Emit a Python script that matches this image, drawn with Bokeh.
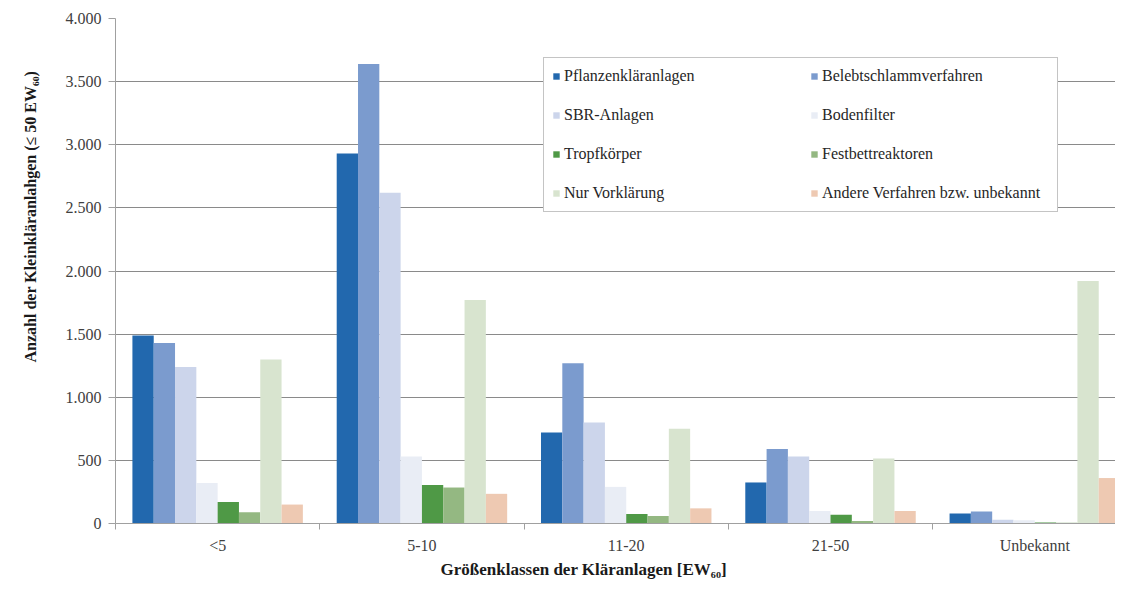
from bokeh.plotting import figure
from bokeh.models import Range1d, FixedTicker, Legend, LegendItem, Title
from bokeh.embed import file_html
from bokeh.resources import INLINE

categories = ["<5", "5-10", "11-20", "21-50", "Unbekannt"]
series_names = ["Pflanzenkläranlagen", "Belebtschlammverfahren", "SBR-Anlagen", "Bodenfilter",
                "Tropfkörper", "Festbettreaktoren", "Nur Vorklärung", "Andere Verfahren bzw. unbekannt"]
pflanzen = [1490, 2930, 720, 325, 80]
belebt = [1430, 3640, 1270, 590, 95]
sbr = [1240, 2620, 800, 530, 30]
boden = [320, 530, 290, 100, 25]
tropf = [170, 305, 75, 70, 8]
festbett = [90, 285, 60, 20, 5]
vorklaerung = [1300, 1770, 750, 515, 1920]
andere = [150, 235, 120, 100, 360]
colors = ["#2268AE", "#7B9BCE", "#CCD5EB", "#E9EDF5", "#4F9946", "#94B882", "#D8E4CF", "#EEC9B2"]
y_ticks = [0, 500, 1000, 1500, 2000, 2500, 3000, 3500, 4000]
y_tick_labels = ["0", "500", "1.000", "1.500", "2.000", "2.500", "3.000", "3.500", "4.000"]
x_title = "Größenklassen der Kläranlagen [EW₆₀]"
y_title = "Anzahl der Kleinkläranlahgen (≤ 50 EW₆₀)"

series = [pflanzen, belebt, sbr, boden, tropf, festbett, vorklaerung, andere]

SERIF = "Liberation Serif"

p = figure(width=1115, height=579, x_range=Range1d(0, 4.895), y_range=Range1d(0, 4000),
           output_backend="svg", toolbar_location=None,
           min_border_left=115, min_border_right=0, min_border_top=18, min_border_bottom=56)
p.outline_line_color = None
p.background_fill_color = "white"

# grid
p.xgrid.visible = False
p.ygrid.ticker = FixedTicker(ticks=y_ticks)
p.ygrid.grid_line_color = "#8a8a8a"
p.ygrid.grid_line_width = 1

# y axis
p.yaxis.ticker = FixedTicker(ticks=y_ticks)
p.yaxis.major_label_overrides = {t: l for t, l in zip(y_ticks, y_tick_labels)}
p.yaxis.axis_line_color = "#a0a0a0"
p.yaxis.major_tick_line_color = "#a0a0a0"
p.yaxis.major_tick_out = 7
p.yaxis.major_tick_in = 0
p.yaxis.minor_tick_line_color = None
p.yaxis.major_label_standoff = 7
p.yaxis.major_label_text_font = SERIF
p.yaxis.major_label_text_font_size = "16px"
p.yaxis.major_label_text_color = "#404040"

# x axis
centers = [i + 0.5 for i in range(len(categories))]
p.xaxis.ticker = FixedTicker(ticks=centers, minor_ticks=[float(i) for i in range(len(categories) + 1)])
p.xaxis.major_label_overrides = {c: l for c, l in zip(centers, categories)}
p.xaxis.axis_line_color = "#a0a0a0"
p.xaxis.major_tick_line_color = None
p.xaxis.major_tick_out = 0
p.xaxis.major_tick_in = 0
p.xaxis.minor_tick_line_color = "#a0a0a0"
p.xaxis.minor_tick_out = 6
p.xaxis.minor_tick_in = 0
p.xaxis.major_label_standoff = 7
p.xaxis.major_label_text_font = SERIF
p.xaxis.major_label_text_font_size = "16px"
p.xaxis.major_label_text_color = "#404040"

# bars
n = len(series)
bw = 0.1043
start = (1 - n * bw) / 2
renderers = []
for j, vals in enumerate(series):
    xs = [i + start + (j + 0.5) * bw for i in range(len(categories))]
    r = p.vbar(x=xs, top=vals, width=bw, fill_color=colors[j], line_color=None)
    renderers.append(r)

# legend fills column-major: order items so rows read (0,1), (2,3), (4,5), (6,7)
order = [0, 2, 4, 6, 1, 3, 5, 7]
legend = Legend(items=[LegendItem(label=series_names[j], renderers=[renderers[j]]) for j in order],
                ncols=2, location=(428, 311))
legend.label_text_font = SERIF
legend.label_text_font_size = "16px"
legend.label_text_color = "#262626"
legend.glyph_width = 8
legend.glyph_height = 8
legend.label_height = 20
legend.label_width = 227
legend.label_standoff = 4
legend.spacing = 19
legend.padding = 8
legend.border_line_color = "#8a8a8a"
legend.border_line_width = 1
legend.background_fill_alpha = 1
p.add_layout(legend)

TITLE_COLOR = "#1a1a1a"

xt = Title(text=x_title, align="left", offset=325, standoff=2,
           text_font=SERIF, text_font_size="17px", text_font_style="bold", text_color=TITLE_COLOR)
p.add_layout(xt, "below")

yt = Title(text=y_title, align="left", offset=161, standoff=43, vertical_align="top",
           text_font=SERIF, text_font_size="16px", text_font_style="bold", text_color=TITLE_COLOR)
p.add_layout(yt, "left")

open("out.html", "w").write(file_html(p, INLINE))
